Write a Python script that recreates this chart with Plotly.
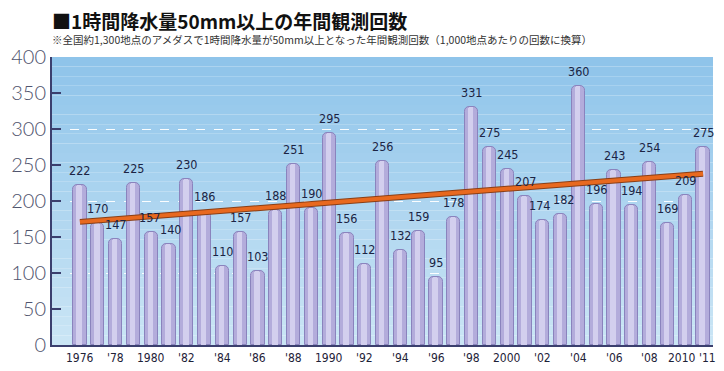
import plotly.graph_objects as go

# ---- data ----
years = list(range(1976, 2012))
counts = [222, 170, 147, 225, 157, 140, 230, 186, 110, 157,
          103, 188, 251, 190, 295, 156, 112, 256, 132, 159,
          95, 178, 331, 275, 245, 207, 174, 182, 360, 196,
          243, 194, 254, 169, 209, 275]
trend_years = [1976, 2011]
trend_values = [171, 238]
tick_years = [1976, 1978, 1980, 1982, 1984, 1986, 1988, 1990, 1992, 1994,
              1996, 1998, 2000, 2002, 2004, 2006, 2008, 2010, 2011]
tick_labels = ["1976", "'78", "1980", "'82", "'84", "'86", "'88", "1990", "'92", "'94",
               "'96", "'98", "2000", "'02", "'04", "'06", "'08", "2010", "'11"]
y_ticks = [0, 50, 100, 150, 200, 250, 300, 350, 400]
grid_vals = [100, 200, 300]

title_text = "■1時間降水量50mm以上の年間観測回数"
subtitle_text = "※全国約1,300地点のアメダスで1時間降水量が50mm以上となった年間観測回数（1,000地点あたりの回数に換算）"

# small horizontal nudges (px) for crowded labels
label_nudge = {1980: -2, 1981: 2, 2002: -3, 2003: 3}
tick_nudge = {2010: -3, 2011: 4}

NARROW = "DejaVu Sans Condensed, Liberation Sans Narrow, Arial Narrow, sans-serif"
CJK = "Noto Sans CJK JP, sans-serif"

# figure is drawn 8px in from the page corner (default body margin)
W, H = 716, 363

fig = go.Figure()

# bars (cylinder body)
fig.add_trace(go.Bar(
    x=years, y=counts, width=0.74,
    marker=dict(color="#b3acdb", line=dict(color="#8a83bd", width=1), cornerradius=5),
    showlegend=False, hoverinfo="x+y",
))
# highlight stripe on cylinders
fig.add_trace(go.Bar(
    x=years, y=counts, width=0.3, offset=-0.2,
    marker=dict(color="#d3cfee", line=dict(width=0), cornerradius=3),
    showlegend=False, hoverinfo="skip",
))

# trend line
fig.add_trace(go.Scatter(
    x=trend_years, y=trend_values, mode="lines",
    line=dict(color="#8a3f16", width=6), showlegend=False, hoverinfo="skip",
))
fig.add_trace(go.Scatter(
    x=trend_years, y=trend_values, mode="lines",
    line=dict(color="#e8691f", width=4), showlegend=False, hoverinfo="skip",
))

# overlay axis only for dashed grid lines
fig.add_trace(go.Scatter(x=[None], y=[None], yaxis="y2", showlegend=False, hoverinfo="skip"))

# background gradient
shapes = []
N = 30
top = (0x8f, 0xc4, 0xea)
bot = (0xca, 0xe5, 0xf5)
for i in range(N):
    t = i / (N - 1)
    c = tuple(int(round(bot[k] + (top[k] - bot[k]) * t)) for k in range(3))
    shapes.append(dict(type="rect", xref="paper", yref="paper",
                       x0=0, x1=1, y0=i / N, y1=(i + 1) / N,
                       fillcolor="rgb(%d,%d,%d)" % c, line=dict(width=0), layer="below"))

annotations = [dict(text=subtitle_text, xref="paper", yref="paper", x=-0.003, y=(337 - 31) / 288,
                    xanchor="left", yanchor="middle", showarrow=False,
                    font=dict(family=CJK, size=10.5, color="#333333"))]
# value labels above bars
for yr, v in zip(years, counts):
    annotations.append(dict(x=yr, y=v, text=str(v), showarrow=False, xanchor="center",
                            yanchor="bottom", yshift=5, xshift=label_nudge.get(yr, 0),
                            font=dict(family=NARROW, size=12.5, color="#1b2444")))
# x-axis year labels
for yr, lab in zip(tick_years, tick_labels):
    annotations.append(dict(x=yr, y=0, xref="x", yref="paper", text=lab, showarrow=False,
                            xanchor="center", yanchor="top", yshift=-4,
                            xshift=tick_nudge.get(yr, 0),
                            font=dict(family=NARROW, size=12, color="#1e2238")))

fig.update_layout(
    width=W, height=H,
    margin=dict(l=44, r=11, t=49, b=26, autoexpand=False),
    paper_bgcolor="white", plot_bgcolor="rgba(0,0,0,0)",
    barmode="overlay", bargap=0,
    shapes=shapes,
    title=dict(text=title_text, x=44 / W, xanchor="left", y=1 - 14 / H, yanchor="middle",
               font=dict(family=CJK, size=19, color="#111111", weight="bold")),
    annotations=annotations,
    xaxis=dict(range=[1974.43, 2011.56], tickvals=tick_years, showticklabels=False,
               showgrid=False, zeroline=False, showline=True, linecolor="#3b3f6e", linewidth=2,
               ticks="", automargin=False),
    yaxis=dict(range=[0, 400], tickvals=y_ticks, showgrid=False, zeroline=False,
               showline=True, linecolor="#3b3f6e", linewidth=2, automargin=False,
               ticks="inside", ticklen=9, tickwidth=2, tickcolor="#3b3f6e",
               tickfont=dict(family="Lato, DejaVu Sans, sans-serif", size=20, color="#50546e", weight=300)),
    yaxis2=dict(range=[0, 400], overlaying="y", tickvals=grid_vals, showticklabels=False,
                showgrid=True, gridcolor="rgba(255,255,255,0.95)", griddash="dash", gridwidth=1,
                zeroline=False, showline=False, ticks="", automargin=False),
)

fig.write_html("out.html")
